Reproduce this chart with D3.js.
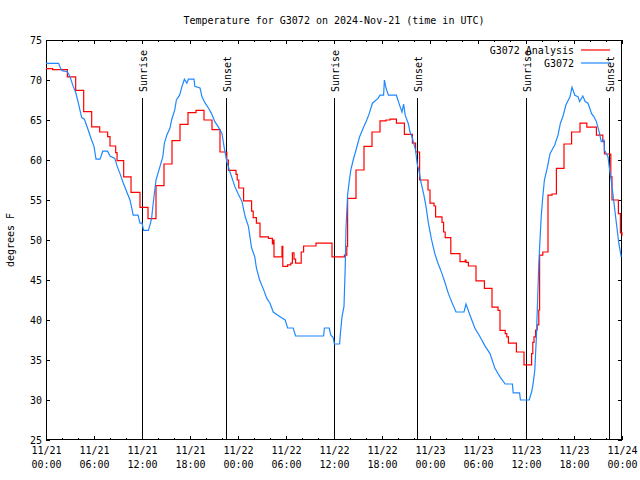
<!DOCTYPE html>
<html><head><meta charset="utf-8">
<script src="https://cdn.jsdelivr.net/npm/d3@7"></script>
<style>body{margin:0;background:#fff}svg{display:block}</style>
</head><body><svg id="c" width="640" height="480"></svg>
<script>
const titleText = "Temperature for G3072 on 2024-Nov-21 (time in UTC)";
const yTitle = "degrees F";
const startMs = Date.UTC(2024, 10, 21, 0, 0);
const xMajorHours = [0,6,12,18,24,30,36,42,48,54,60,66,72];
const xMinorHours = d3.range(0, 73, 2);
const yTicks = [25,30,35,40,45,50,55,60,65,70,75];
const sunHours = [12.03, 22.5, 36.03, 46.42, 60.03, 70.4];
const sunLabels = ["Sunrise","Sunset","Sunrise","Sunset","Sunrise","Sunset"];
const seriesNames = ["G3072 Analysis", "G3072"];

// Analysis (red), step values: hour offset from 11/21 00:00 UTC, temperature F
const analysisHours = [0,0.83,2.67,3.71,4.71,5.71,6.71,7.71,8.0,8.71,8.88,9.71,10.63,11.75,12.75,13.75,14.75,15.75,16.75,17.75,18.75,19.75,20.75,21.75,22.6,22.8,23.75,23.9,24.1,24.7,25.7,25.9,26.3,26.75,27.8,28.3,28.4,28.5,29.5,29.6,30.2,30.6,30.8,31.0,31.2,31.9,32.2,33.75,35.75,37.3,37.6,37.7,38.75,39.75,40.75,41.75,42.5,43.0,43.8,44.8,45.8,46.2,46.7,47.75,48.0,48.5,48.7,49.5,49.7,49.9,50.6,51.75,52.4,52.5,52.8,53.75,54.8,55.75,56.5,56.75,57.4,57.6,57.8,58.8,59.75,60.7,60.85,61.0,61.2,61.4,61.6,61.7,62.1,62.75,63.25,63.8,64.75,65.7,66.75,67.6,68.8,69.6,69.8,70.6,70.75,71.55,71.8,72];
const analysisTemps = [71.42,71.29,70.38,68.71,66.04,64.13,63.5,62.92,61.75,60.92,59.92,57.88,55.96,54.08,52.67,56.79,59.5,62.42,64.46,65.92,66.21,65.0,63.8,61.0,60.0,58.7,58.2,57.5,56.5,54.9,53.6,52.8,52.1,50.4,50.2,49.5,50.0,47.9,49.2,46.7,46.9,47.1,48.4,47.6,47.1,48.5,49.25,49.6,47.9,48.1,49.2,55.2,58.75,61.7,63.5,64.9,65.0,65.1,64.6,63.2,62.1,61.0,57.5,56.25,54.6,54.25,52.9,52.2,51.0,50.3,48.3,47.3,47.5,47.2,46.75,44.9,43.95,41.6,41.2,38.7,38.3,37.9,37.1,36.0,34.4,35.8,37.2,37.9,38.75,39.4,41.25,48.1,48.5,55.6,55.75,58.96,62.0,63.5,64.6,64.1,63.1,62.3,60.75,57.9,55.0,53.3,50.9,50.5];

// Observations (blue)
const obsHours = [0,1.58,1.8,2.0,2.67,3.0,3.2,3.4,3.7,4.0,4.46,4.8,5.1,5.5,5.7,6.0,6.25,6.75,7.1,7.7,8.0,8.6,8.9,9.25,9.67,10.1,10.5,10.9,11.5,11.75,12.0,12.2,12.8,13.0,13.2,13.4,13.75,14.25,14.6,14.8,15.1,15.5,15.7,16.1,16.3,16.7,17.0,17.3,17.6,17.8,18.5,18.6,19.25,19.5,19.9,20.3,20.7,21.1,21.5,22.0,22.25,22.6,23.0,23.6,24.0,24.5,24.9,25.3,25.7,26.1,26.3,26.7,27.2,27.6,28.0,28.4,29.25,29.9,30.2,30.9,31.2,34.7,34.8,35.4,35.6,35.9,36.05,36.7,36.8,37.0,37.25,37.4,37.5,37.7,37.9,38.1,38.4,38.75,39.2,39.7,40.1,40.4,40.8,41.5,41.75,42.2,42.3,42.5,42.8,43.8,44.05,44.25,44.5,44.7,44.9,45.3,45.5,45.75,46.2,46.4,46.6,46.9,47.2,47.5,47.8,48.2,48.6,49.0,49.5,49.9,50.3,50.7,51.25,52.25,52.5,53.0,53.6,54.25,54.9,55.5,56.1,56.75,57.4,58.3,58.4,59.2,59.3,60.4,60.7,60.9,61.1,61.3,61.5,61.6,61.9,62.1,62.3,62.7,63.0,63.25,63.6,64.0,64.3,64.6,65.0,65.5,65.75,66.1,66.5,66.7,67.1,67.4,67.75,68.2,68.5,68.8,69.2,69.4,69.75,69.8,70.25,70.45,70.7,71.0,71.3,71.6,71.9];
const obsTemps = [72.08,72.08,71.5,71.17,71.04,70.4,69.8,69.2,68.5,67.3,65.3,65.1,64.25,63.1,62.5,61.7,60.1,60.1,61.1,61.1,60.5,60.2,59.2,58.3,57.1,56.0,55.0,53.1,53.1,52.1,52.1,51.2,51.2,51.9,52.7,54.6,57.5,59.2,60.4,62.1,63.1,64.0,65.0,66.3,67.5,68.1,69.2,70.1,69.6,70.1,70.1,69.2,69.0,67.9,67.1,66.5,65.8,64.8,64.2,63.3,61.7,59.8,58.5,56.7,55.8,54.8,52.9,51.7,49.0,47.9,46.5,45.0,43.8,42.7,42.1,41.0,40.4,40.0,39.0,39.0,38.0,38.0,39.0,39.0,38.1,37.8,37.0,37.0,38.3,40.4,41.7,46.5,51.5,55.6,57.3,58.75,60.0,61.25,62.9,64.1,65.0,65.8,67.1,67.7,68.1,68.1,70.0,69.0,68.1,68.1,67.3,66.7,66.0,67.0,65.6,64.5,63.5,62.9,61.2,59.5,58.75,57.1,55.8,54.2,52.1,50.0,48.3,47.1,45.8,44.6,43.3,42.3,41.0,41.0,42.0,40.6,39.0,37.9,36.7,35.8,34.0,32.9,32.0,32.0,30.9,30.9,30.0,30.0,31.0,32.1,33.75,37.9,43.9,47.1,52.9,55.4,57.5,59.2,60.8,61.25,61.9,63.1,64.6,65.4,66.9,67.9,69.1,68.1,67.9,67.3,68.0,67.3,67.1,65.8,65.4,64.8,63.3,62.3,62.5,61.25,60.4,58.75,57.1,54.6,52.1,49.6,47.9];

const FONT = "'DejaVu Sans Mono', 'Liberation Mono', monospace";
const svg = d3.select("#c");
const L = 46, R = 622, T = 40, B = 440;
const toDate = h => new Date(startMs + h * 3600e3);
const x = d3.scaleUtc().domain([toDate(0), toDate(72)]).range([L, R]);
const y = d3.scaleLinear().domain([25, 75]).range([B, T]);

svg.append("rect").attr("width",640).attr("height",480).attr("fill","#fff");

// title
svg.append("text").attr("x",(L+R)/2).attr("y",24).attr("text-anchor","middle")
  .style("font-family",FONT).style("font-size","10px").text(titleText);
svg.append("text").attr("transform","translate(14,240) rotate(-90)").attr("text-anchor","middle")
  .style("font-family",FONT).style("font-size","10px").text(yTitle);

function styleAxis(g){ g.select(".domain").remove(); g.selectAll("line").attr("stroke","#000"); g.selectAll("text").style("font-family",FONT).style("font-size","10px").attr("fill","#000"); }

// y axes
svg.append("g").attr("transform",`translate(${L},0)`)
  .call(d3.axisLeft(y).tickValues(yTicks).tickSizeInner(-4).tickSizeOuter(0).tickPadding(4))
  .call(styleAxis).call(g=>g.selectAll("text").attr("dy","0.35em"));
svg.append("g").attr("transform",`translate(${R},0)`)
  .call(d3.axisRight(y).tickValues(yTicks).tickSizeInner(-4).tickSizeOuter(0).tickFormat(""))
  .call(styleAxis);

// x minor
svg.append("g").attr("transform",`translate(0,${B})`)
  .call(d3.axisBottom(x).tickValues(xMinorHours.map(toDate)).tickSizeInner(-2).tickSizeOuter(0).tickFormat(""))
  .call(styleAxis);
svg.append("g").attr("transform",`translate(0,${T})`)
  .call(d3.axisTop(x).tickValues(xMinorHours.map(toDate)).tickSizeInner(-2).tickSizeOuter(0).tickFormat(""))
  .call(styleAxis);
svg.append("g").attr("transform",`translate(0,${T})`)
  .call(d3.axisTop(x).tickValues(xMajorHours.map(toDate)).tickSizeInner(-4).tickSizeOuter(0).tickFormat(""))
  .call(styleAxis);
// x major with labels
const fmtD = d3.utcFormat("%m/%d"), fmtT = d3.utcFormat("%H:%M");
const xb = svg.append("g").attr("transform",`translate(0,${B})`)
  .call(d3.axisBottom(x).tickValues(xMajorHours.map(toDate)).tickSizeInner(-4).tickSizeOuter(0).tickPadding(7).tickFormat(d=>fmtD(d)))
  .call(styleAxis);
xb.selectAll(".tick text").each(function(d){
  const t = d3.select(this); t.text(null);
  t.append("tspan").attr("x",0).attr("dy","0.71em").text(fmtD(d));
  t.append("tspan").attr("x",0).attr("dy","1.4em").text(fmtT(d));
});

// frame
svg.append("rect").attr("x",L+0.5).attr("y",T+0.5).attr("width",R-L-1).attr("height",B-T-1)
  .attr("fill","none").attr("stroke","#000");

// sun lines
const sun = svg.append("g");
sunHours.forEach((h,i)=>{
  const sx = Math.round(x(toDate(h)))+0.5;
  sun.append("line").attr("x1",sx).attr("x2",sx).attr("y1",98).attr("y2",B).attr("stroke","#000").attr("stroke-width",1);
  sun.append("text").attr("transform",`translate(${sx+4},92) rotate(-90)`)
    .style("font-family",FONT).style("font-size","10px").text(sunLabels[i]);
});

// data lines
const obs = obsHours.map((h,i)=>[toDate(h), obsTemps[i]]);
const ana = analysisHours.map((h,i)=>[toDate(h), analysisTemps[i]]);
const line = d3.line().x(d=>x(d[0])).y(d=>y(d[1]));
svg.append("path").datum(ana).attr("fill","none").attr("stroke","#ff0000").attr("stroke-width",1.2)
  .attr("d", line.curve(d3.curveStepAfter));
svg.append("path").datum(obs).attr("fill","none").attr("stroke","#1e88ff").attr("stroke-width",1.2)
  .attr("d", d3.line().x(d=>x(d[0])).y(d=>y(d[1])).curve(d3.curveLinear));

// legend
const colors = ["#ff0000","#1e88ff"];
seriesNames.forEach((n,i)=>{
  const ly = 50 + i*13;
  svg.append("text").attr("x",574).attr("y",ly+3.5).attr("text-anchor","end")
    .style("font-family",FONT).style("font-size","10px").text(n);
  svg.append("line").attr("x1",581).attr("x2",610).attr("y1",ly).attr("y2",ly).attr("stroke",colors[i]).attr("stroke-width",1.2);
});
</script></body></html>
